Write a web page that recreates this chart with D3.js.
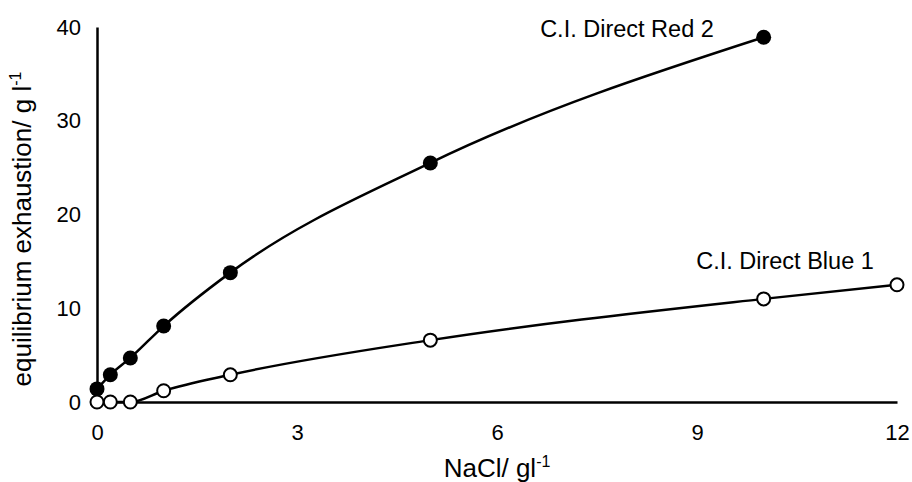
<!DOCTYPE html>
<html>
<head>
<meta charset="utf-8">
<script src="https://cdn.jsdelivr.net/npm/d3@7"></script>
<style>
  body { margin: 0; background: #fff; }
  text { font-family: "Liberation Sans", Arial, sans-serif; fill: #000; }
</style>
</head>
<body>
<svg id="chart" width="912" height="482"></svg>
<script>
// NaCl concentrations (g/l)
var redX = [0, 0.2, 0.5, 1, 2, 5, 10];
var redY = [1.4, 2.9, 4.7, 8.1, 13.8, 25.5, 38.9];
var blueX = [0, 0.2, 0.5, 1, 2, 5, 10, 12];
var blueY = [0, 0, 0, 1.2, 2.9, 6.6, 11.0, 12.5];
var xTicks = [0, 3, 6, 9, 12];
var yTicks = [0, 10, 20, 30, 40];

var svg = d3.select("#chart");

var x = d3.scaleLinear().domain([0, 12]).range([97, 897]);
var y = d3.scaleLinear().domain([0, 40]).range([402, 27]);

// axes (no tick marks, just the lines and labels)
var xAxis = svg.append("g")
  .attr("transform", "translate(0," + y(0) + ")")
  .call(d3.axisBottom(x).tickValues(xTicks).tickSize(0).tickPadding(22));
var yAxis = svg.append("g")
  .attr("transform", "translate(" + x(0) + ",0)")
  .call(d3.axisLeft(y).tickValues(yTicks).tickSize(0).tickPadding(16));

[xAxis, yAxis].forEach(function(a){
  a.select(".domain").attr("stroke", "#000").attr("stroke-width", 2.5);
  a.selectAll("text").style("font-size", "22px")
    .style("font-family", "'Liberation Sans', Arial, sans-serif");
});

var red = redX.map(function(d, i){ return [d, redY[i]]; });
var blue = blueX.map(function(d, i){ return [d, blueY[i]]; });

var line = d3.line()
  .x(function(d){ return x(d[0]); })
  .y(function(d){ return y(d[1]); })
  .curve(d3.curveMonotoneX);

svg.append("path").attr("d", line(red))
  .attr("fill", "none").attr("stroke", "#000").attr("stroke-width", 2.5);
svg.append("path").attr("d", line(blue))
  .attr("fill", "none").attr("stroke", "#000").attr("stroke-width", 2.5);

svg.selectAll(".red").data(red).enter().append("circle")
  .attr("cx", function(d){ return x(d[0]); })
  .attr("cy", function(d){ return y(d[1]); })
  .attr("r", 7.5)
  .attr("fill", "#000");

svg.selectAll(".blue").data(blue).enter().append("circle")
  .attr("cx", function(d){ return x(d[0]); })
  .attr("cy", function(d){ return y(d[1]); })
  .attr("r", 6.5)
  .attr("fill", "#fff")
  .attr("stroke", "#000")
  .attr("stroke-width", 2);

// series labels
svg.append("text").attr("x", 627).attr("y", 37)
  .attr("text-anchor", "middle").style("font-size", "23.5px")
  .text("C.I. Direct Red 2");
svg.append("text").attr("x", 785).attr("y", 269)
  .attr("text-anchor", "middle").style("font-size", "23.5px")
  .text("C.I. Direct Blue 1");

// axis titles
var xt = svg.append("text").attr("x", 497).attr("y", 477)
  .attr("text-anchor", "middle").style("font-size", "26px");
xt.append("tspan").text("NaCl/ gl");
xt.append("tspan").attr("dy", -10).style("font-size", "16px").text("-1");

var yt = svg.append("text")
  .attr("transform", "translate(31,229) rotate(-90)")
  .attr("text-anchor", "middle").style("font-size", "26px");
yt.append("tspan").text("equilibrium exhaustion/ g l");
yt.append("tspan").attr("dy", -10).style("font-size", "16px").text("-1");
</script>
</body>
</html>
